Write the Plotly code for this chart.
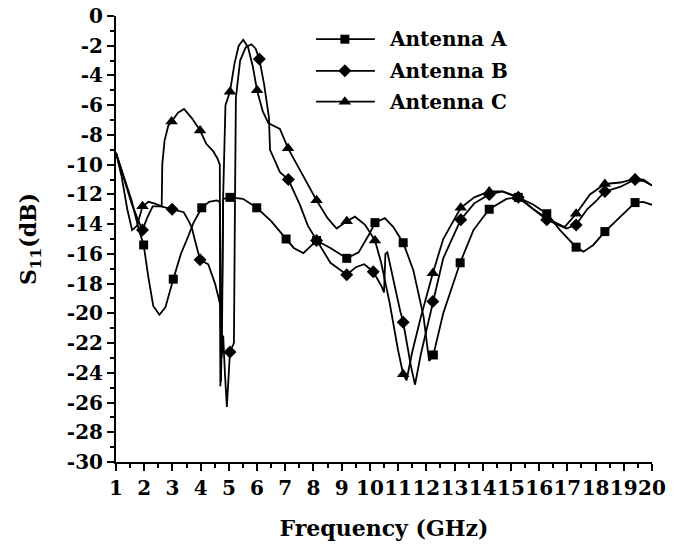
import plotly.graph_objects as go

# ---- measured return loss, S11 (dB) versus frequency (GHz) ----
freq_a = [1.00, 1.30, 1.55, 1.80, 1.98, 2.15, 2.32, 2.54, 2.75, 3.03, 3.30, 3.50, 3.75, 4.04,
          4.30, 4.57, 4.68, 4.72, 4.76, 4.80, 5.04, 5.50, 5.99, 6.50, 7.03, 7.30, 7.64, 7.90,
          8.11, 8.60, 9.18, 9.60, 10.00, 10.18, 10.53, 10.83, 11.18, 11.54, 11.90, 12.10,
          12.25, 12.60, 13.20, 13.67, 14.23, 14.84, 15.26, 15.80, 16.27, 16.74, 17.10, 17.31,
          17.57, 17.92, 18.33, 18.87, 19.40, 19.69, 20.00]
db_a = [-9.2, -10.9, -12.4, -14.3, -15.4, -17.6, -19.5, -20.1, -19.6, -17.7, -16.0, -15.1, -13.9, -12.9,
        -12.5, -12.4, -12.5, -24.6, -20.8, -12.3, -12.2, -12.3, -12.9, -13.8, -15.0, -15.6, -15.95, -15.5,
        -15.1, -15.6, -16.3, -15.9, -14.6, -13.9, -13.6, -14.2, -15.25, -17.1, -20.2, -23.2,
        -22.8, -20.0, -16.6, -14.4, -13.0, -12.3, -12.2, -12.7, -13.3, -14.4, -15.1, -15.55,
        -15.85, -15.4, -14.5, -13.5, -12.55, -12.5, -12.7]
marks_a = [1.98, 3.03, 4.04, 5.04, 5.99, 7.03, 8.11, 9.18, 10.18, 11.18, 12.25, 13.20, 14.23,
           15.26, 16.27, 17.31, 18.33, 19.40]

freq_b = [1.00, 1.30, 1.55, 1.80, 1.94, 2.10, 2.30, 2.60, 2.99, 3.40, 3.58, 3.68, 3.80, 3.98,
          4.27, 4.51, 4.63, 4.70, 4.74, 4.80, 4.86, 4.93, 5.04, 5.18, 5.22, 5.25, 5.40, 5.60,
          5.80, 5.95, 6.08, 6.25, 6.42, 6.46, 6.60, 6.81, 7.11, 7.52, 7.80, 8.11, 8.60, 9.18,
          9.50, 9.80, 10.12, 10.42, 10.50, 10.55, 10.62, 11.07, 11.18, 11.45, 11.60, 11.80,
          12.23, 12.60, 13.22, 13.70, 14.23, 14.70, 15.26, 15.80, 16.27, 16.97, 17.31, 17.70,
          18.04, 18.33, 18.87, 19.40, 19.70, 20.00]
db_b = [-9.2, -11.0, -12.6, -13.8, -14.4, -13.6, -12.8, -12.8, -13.0, -13.2, -13.8, -14.2, -15.1, -16.4,
        -16.7, -18.0, -18.9, -19.5, -23.0, -21.5, -24.0, -26.3, -22.6, -22.0, -12.0, -5.5, -3.0, -2.1,
        -1.9, -2.2, -2.9, -4.6, -6.8, -9.0, -9.6, -10.5, -11.0, -12.7, -14.1, -15.1, -16.6, -17.4,
        -16.9, -16.7, -17.2, -18.2, -18.6, -16.0, -15.9, -19.8, -20.6, -23.5, -24.8, -22.8,
        -19.2, -16.3, -13.7, -12.6, -12.0, -11.8, -12.2, -13.0, -13.7, -14.3, -14.05, -13.0,
        -12.4, -11.8, -11.5, -11.0, -11.1, -11.4]
marks_b = [1.94, 2.99, 3.98, 5.04, 6.08, 7.11, 8.11, 9.18, 10.12, 11.18, 12.23, 13.22, 14.23,
           15.26, 16.27, 17.31, 18.33, 19.40]

freq_c = [1.00, 1.20, 1.40, 1.57, 1.75, 1.94, 2.15, 2.35, 2.62, 2.64, 2.72, 2.85, 2.97, 3.20,
          3.41, 3.70, 3.98, 4.20, 4.45, 4.60, 4.68, 4.70, 4.74, 4.80, 4.88, 5.04, 5.20, 5.35,
          5.51, 5.68, 5.85, 6.00, 6.20, 6.40, 6.60, 6.81, 7.10, 7.50, 7.80, 8.11, 8.50, 8.82,
          9.18, 9.47, 9.83, 10.18, 10.40, 10.70, 11.00, 11.18, 11.30, 11.50, 11.80, 12.23,
          12.60, 13.22, 13.70, 14.23, 14.70, 15.26, 15.80, 16.27, 16.90, 17.31, 17.80, 18.33,
          18.87, 19.40, 19.70, 20.00]
db_c = [-9.2, -10.8, -13.0, -14.4, -14.1, -12.8, -12.5, -12.6, -12.8, -10.0, -8.4, -7.4, -7.1, -6.5,
        -6.25, -6.9, -7.7, -8.6, -9.1, -9.6, -10.0, -24.9, -22.0, -12.0, -6.0, -5.1, -3.2, -2.0,
        -1.6, -2.1, -3.4, -5.0, -6.4, -7.2, -7.4, -7.6, -8.9, -10.3, -11.3, -12.4, -13.6, -14.3,
        -13.8, -13.5, -14.05, -15.1, -16.6, -19.3, -22.5, -24.1, -24.5, -22.6, -20.3, -17.3,
        -15.0, -12.9, -12.2, -11.8, -11.8, -12.2, -13.0, -13.6, -14.2, -13.3, -12.0, -11.3,
        -11.2, -10.95, -11.0, -11.4]
marks_c = [1.94, 2.97, 3.98, 5.04, 6.00, 7.10, 8.11, 9.18, 10.18, 11.18, 12.23, 13.22, 14.23,
           15.26, 16.27, 17.31, 18.33, 19.40]

series_names = ["Antenna A", "Antenna B", "Antenna C"]
series_symbols = ["square", "diamond", "triangle-up"]
series_sizes = [9, 10, 11]

x_ticks = list(range(1, 21))
y_ticks = list(range(0, -31, -2))
y_tick_text = [str(v) if v == 0 else "-" + str(-v) for v in y_ticks]

FONT = "DejaVu Serif"
INK = "black"

fig = go.Figure()

series = [(freq_a, db_a, marks_a), (freq_b, db_b, marks_b), (freq_c, db_c, marks_c)]
for (fx, fy, marks), name, sym, size in zip(series, series_names, series_symbols, series_sizes):
    fig.add_trace(go.Scatter(x=fx, y=fy, mode="lines", line=dict(color=INK, width=1.8),
                             showlegend=False, name=name))
    lookup = dict(zip(fx, fy))
    fig.add_trace(go.Scatter(x=marks, y=[lookup[m] for m in marks], mode="markers",
                             marker=dict(symbol=sym, size=size, color=INK),
                             showlegend=False, name=name))

# legend keys drawn on a hidden 0..1 overlay so the sample line can be long
key_x0, key_xm, key_x1 = 0.373, 0.427, 0.483
key_rows = [0.948, 0.877, 0.808]
for name, sym, size, ky in zip(series_names, series_symbols, series_sizes, key_rows):
    fig.add_trace(go.Scatter(x=[key_x0, key_x1], y=[ky, ky], mode="lines",
                             line=dict(color=INK, width=1.8), xaxis="x2", yaxis="y2",
                             showlegend=False, hoverinfo="skip"))
    fig.add_trace(go.Scatter(x=[key_xm], y=[ky], mode="markers",
                             marker=dict(symbol=sym, size=size, color=INK),
                             xaxis="x2", yaxis="y2", showlegend=False, hoverinfo="skip"))
    fig.add_annotation(x=0.506, y=ky, xref="paper", yref="paper", text="<b>" + name + "</b>",
                       showarrow=False, xanchor="left", yanchor="middle",
                       font=dict(family=FONT, size=20, color=INK))

fig.update_layout(
    width=680, height=547,
    margin=dict(l=116, r=28, t=16, b=85, autoexpand=False),
    paper_bgcolor="white", plot_bgcolor="white",
    font=dict(family=FONT, color=INK),
    xaxis=dict(
        range=[1, 20], tickmode="array", tickvals=x_ticks, ticktext=[str(v) for v in x_ticks],
        tickangle=0, showgrid=False, zeroline=False, automargin=False,
        showline=True, linecolor=INK, linewidth=2,
        ticks="outside", ticklen=7, tickwidth=2, tickcolor=INK,
        tickfont=dict(family=FONT, size=20, color=INK, weight="bold"),
        minor=dict(dtick=0.5, ticks="outside", ticklen=4, tickwidth=1.5, tickcolor=INK, showgrid=False),
        title=dict(text="<b>Frequency (GHz)</b>", standoff=22,
                   font=dict(family=FONT, size=22, color=INK)),
    ),
    yaxis=dict(
        range=[-30, 0], tickmode="array", tickvals=y_ticks, ticktext=y_tick_text,
        showgrid=False, zeroline=False, automargin=False,
        showline=True, linecolor=INK, linewidth=2,
        ticks="outside", ticklen=7, tickwidth=2, tickcolor=INK,
        tickfont=dict(family=FONT, size=20, color=INK, weight="bold"),
        minor=dict(dtick=1, ticks="outside", ticklen=4, tickwidth=1.5, tickcolor=INK, showgrid=False),
        title=dict(text="<b>S<sub>11</sub>(dB)</b>", standoff=24,
                   font=dict(family=FONT, size=22, color=INK)),
    ),
    xaxis2=dict(range=[0, 1], overlaying="x", visible=False, fixedrange=True, automargin=False),
    yaxis2=dict(range=[0, 1], overlaying="y", visible=False, fixedrange=True, anchor="x2",
                automargin=False),
)
fig.update_traces(cliponaxis=False, selector=dict(xaxis="x2"))

fig.write_html("out.html")
